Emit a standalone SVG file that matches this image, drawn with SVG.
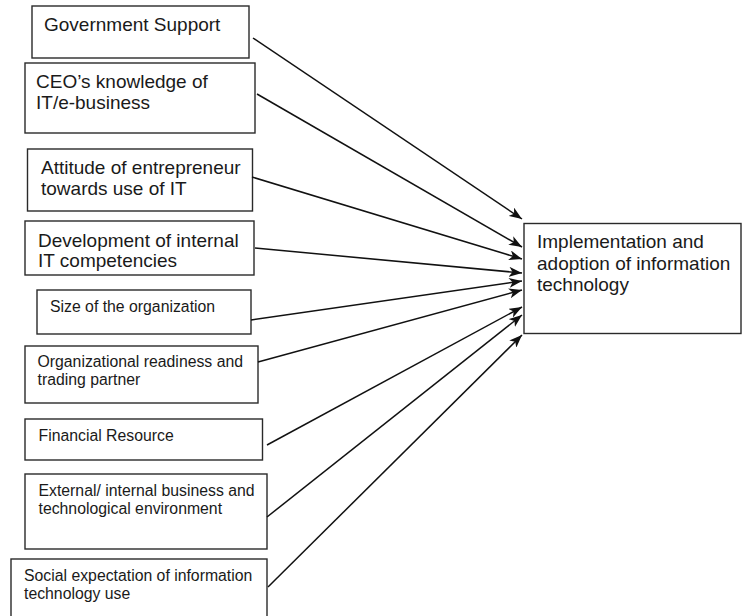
<svg xmlns="http://www.w3.org/2000/svg" width="742" height="616" viewBox="0 0 742 616">
  <defs>
    <style>
      .box { fill: #ffffff; stroke: #2a2a2a; stroke-width: 1.4; }
      .lg { font-family: "Liberation Sans", Arial, sans-serif; font-size: 19px; fill: #1a1a1a; }
      .sm { font-family: "Liberation Sans", Arial, sans-serif; font-size: 15.8px; fill: #1a1a1a; }
      .link { stroke: #111111; stroke-width: 1.5; fill: none; marker-end: url(#head); }
    </style>
    <marker id="head" viewBox="0 0 13 10" refX="13" refY="5" markerWidth="13" markerHeight="10" markerUnits="userSpaceOnUse" orient="auto">
      <path d="M0,0 L13,5 L0,10 L3.5,5 z" fill="#111111"/>
    </marker>
  </defs>

  <rect width="742" height="616" fill="#ffffff"/>

  <!-- factor boxes -->
  <g id="government-support">
    <rect class="box" x="32" y="6" width="217" height="52"/>
    <text class="lg" x="44" y="31">Government Support</text>
  </g>
  <g id="ceo-knowledge">
    <rect class="box" x="25" y="63" width="230" height="70"/>
    <text class="lg" x="36" y="88">CEO’s knowledge of</text>
    <text class="lg" x="36" y="109">IT/e-business</text>
  </g>
  <g id="entrepreneur-attitude">
    <rect class="box" x="27.5" y="149" width="225" height="62"/>
    <text class="lg" x="41" y="173.5">Attitude of entrepreneur</text>
    <text class="lg" x="41" y="194.5">towards use of IT</text>
  </g>
  <g id="it-competencies">
    <rect class="box" x="25" y="221" width="229" height="54"/>
    <text class="lg" x="38" y="246.5">Development of internal</text>
    <text class="lg" x="38" y="267">IT competencies</text>
  </g>
  <g id="organization-size">
    <rect class="box" x="37" y="290" width="214" height="44"/>
    <text class="sm" x="50" y="311.5">Size of the organization</text>
  </g>
  <g id="organizational-readiness">
    <rect class="box" x="25" y="346" width="233" height="57"/>
    <text class="sm" x="37.5" y="366.5">Organizational readiness and</text>
    <text class="sm" x="37.5" y="385">trading partner</text>
  </g>
  <g id="financial-resource">
    <rect class="box" x="25" y="419" width="237.5" height="41"/>
    <text class="sm" x="38.5" y="441">Financial Resource</text>
  </g>
  <g id="business-environment">
    <rect class="box" x="25" y="474" width="242" height="75"/>
    <text class="sm" x="38.5" y="495.5">External/ internal business and</text>
    <text class="sm" x="38.5" y="514">technological environment</text>
  </g>
  <g id="social-expectation">
    <rect class="box" x="11" y="559" width="256" height="70"/>
    <text class="sm" x="24" y="580.5">Social expectation of information</text>
    <text class="sm" x="24" y="599">technology use</text>
  </g>

  <!-- outcome box -->
  <g id="it-adoption">
    <rect class="box" x="524" y="223.5" width="217" height="110"/>
    <text class="lg" x="537" y="248">Implementation and</text>
    <text class="lg" x="537" y="269.5">adoption of information</text>
    <text class="lg" x="537" y="291">technology</text>
  </g>

  <!-- connectors -->
  <g id="connectors">
    <line class="link" x1="253" y1="38" x2="522" y2="219"/>
    <line class="link" x1="257" y1="94" x2="522" y2="247"/>
    <line class="link" x1="252" y1="177" x2="522" y2="259"/>
    <line class="link" x1="255" y1="248" x2="522" y2="273"/>
    <line class="link" x1="251" y1="320" x2="522" y2="281"/>
    <line class="link" x1="258" y1="362" x2="522" y2="290"/>
    <line class="link" x1="267" y1="445" x2="522" y2="307"/>
    <line class="link" x1="267" y1="517" x2="522" y2="315"/>
    <line class="link" x1="268" y1="587" x2="522" y2="335"/>
  </g>
</svg>
